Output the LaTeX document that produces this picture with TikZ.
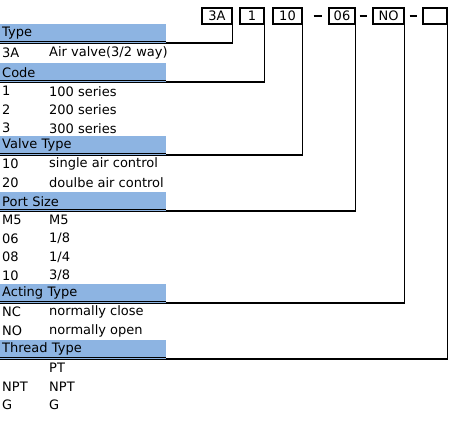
\documentclass[tikz,border=0pt]{standalone}
\usepackage{fontspec}
\setmainfont{DejaVu Sans}
\definecolor{headblue}{RGB}{141,180,226}
\begin{document}
\begin{tikzpicture}[x=1pt, y=-1pt, font=\fontsize{13}{15}\selectfont]
        \tikzstyle{blk} = [draw, black, line width=1.1pt]
        \tikzstyle{codebox} = [draw, black, line width=1.1pt, minimum height=16pt, inner sep=0pt]
        \tikzstyle{head} = [fill=headblue, minimum width=166pt, minimum height=19pt, inner sep=2pt, text width=162pt, align=left, anchor=south west]
        \tikzstyle{item} = [anchor=west, inner sep=0pt]
        \tikzstyle{uline} = [draw, black, line width=0.7pt]

        \useasboundingbox (0, 0) rectangle (476, 424);

        % order code boxes
        \node[codebox, minimum width=30pt] (code type) at (217, 16) {3A};
        \node[codebox, minimum width=24pt] (code series) at (252, 16) {1};
        \node[codebox, minimum width=29pt] (code valve) at (287.5, 16) {10};
        \node[codebox, minimum width=26pt] (code port) at (342, 16) {06};
        \node[codebox, minimum width=31pt] (code acting) at (388.5, 16) {NO};
        \node[codebox, minimum width=24pt] (code thread) at (435, 16) {};

        \path[blk, shorten <=11pt, shorten >=6pt] (code valve) to (code port);
        \path[blk, shorten <=4pt, shorten >=5pt] (code port) to (code acting);
        \path[blk, shorten <=5pt, shorten >=5pt] (code acting) to (code thread);

        % headers
        \node[head] (type head) at (0, 43) {Type};
        \node[head] (series head) at (0, 82) {Code};
        \node[head] (valve head) at (0, 155) {Valve Type};
        \node[head] (port head) at (0, 211) {Port Size};
        \node[head] (acting head) at (0, 303) {Acting Type};
        \node[head] (thread head) at (0, 359) {Thread Type};

        \foreach \h in {type head, series head, valve head, port head, acting head, thread head} {
            \path[uline] (\h.south west) to (\h.south east);
            \path[uline] ([yshift=1.8pt]\h.south west) to ([yshift=1.8pt]\h.south east);
        }

        % entries
        \node[item] (type 3A) at (2, 52.5) {3A};
        \node[item] (type 3A text) at (49, 52.5) {Air valve(3/2 way)};

        \node[item] (series 1) at (2, 91.25) {1};
        \node[item] (series 1 text) at (49, 91.25) {100 series};
        \node[item] (series 2) at (2, 109.75) {2};
        \node[item] (series 2 text) at (49, 109.75) {200 series};
        \node[item] (series 3) at (2, 128.25) {3};
        \node[item] (series 3 text) at (49, 128.25) {300 series};

        \node[item] (valve 10) at (2, 164.25) {10};
        \node[item] (valve 10 text) at (49, 164.25) {single air control};
        \node[item] (valve 20) at (2, 182.75) {20};
        \node[item] (valve 20 text) at (49, 182.75) {doulbe air control};

        \node[item] (port M5) at (2, 220.25) {M5};
        \node[item] (port M5 text) at (49, 220.25) {M5};
        \node[item] (port 06) at (2, 238.75) {06};
        \node[item] (port 06 text) at (49, 238.75) {1/8};
        \node[item] (port 08) at (2, 257.25) {08};
        \node[item] (port 08 text) at (49, 257.25) {1/4};
        \node[item] (port 10) at (2, 275.75) {10};
        \node[item] (port 10 text) at (49, 275.75) {3/8};

        \node[item] (acting NC) at (2, 312.25) {NC};
        \node[item] (acting NC text) at (49, 312.25) {normally close};
        \node[item] (acting NO) at (2, 330.75) {NO};
        \node[item] (acting NO text) at (49, 330.75) {normally open};

        \node[item] (thread PT text) at (49, 368.25) {PT};
        \node[item] (thread NPT) at (2, 386.75) {NPT};
        \node[item] (thread NPT text) at (49, 386.75) {NPT};
        \node[item] (thread G) at (2, 405.25) {G};
        \node[item] (thread G text) at (49, 405.25) {G};

        % leader lines
        \path[blk] (code type.south east) |- (type head.south east);
        \path[blk] (code series.south east) |- (series head.south east);
        \path[blk] (code valve.south east) |- (valve head.south east);
        \path[blk] (code port.south east) |- (port head.south east);
        \path[blk] (code acting.south east) |- (acting head.south east);
        \path[blk] (code thread.south east) |- (thread head.south east);
    \end{tikzpicture}
\end{document}
